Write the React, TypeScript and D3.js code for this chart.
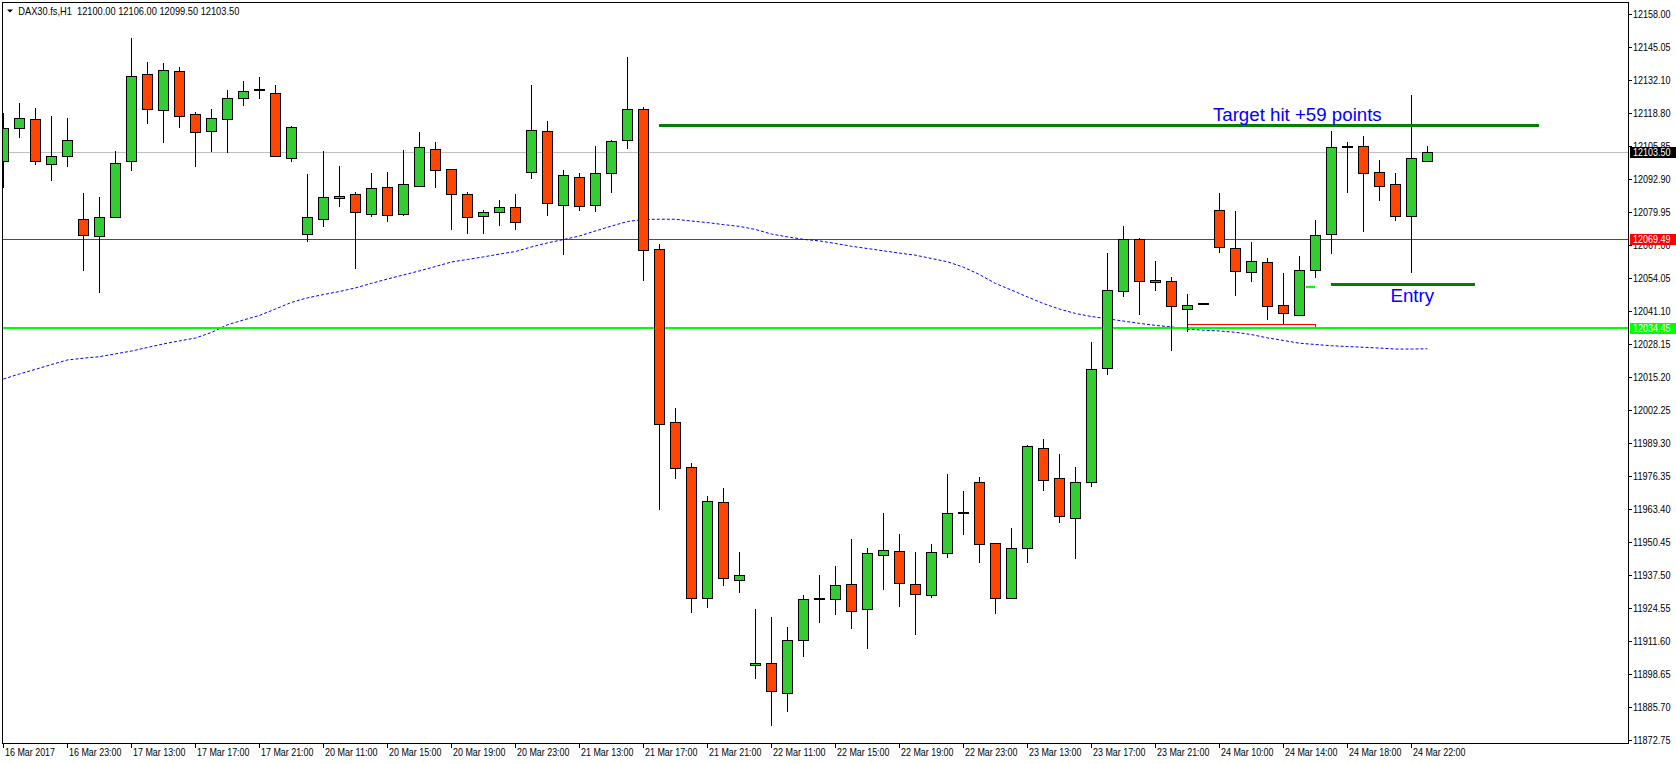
import { line, scaleLinear } from "d3";

// H1 candles, 16 Mar 2017 19:00 .. 24 Mar 2017 23:00
const opens = [
  12100.0, 12112.9, 12116.5, 12098.8, 12101.9, 12077.2, 12070.5, 12077.9, 12100.0, 12134.1,
  12120.0, 12135.3, 12118.4, 12111.7, 12116.5, 12124.7, 12127.8, 12126.7, 12101.1, 12071.3,
  12077.2, 12085.4, 12087.0, 12079.1, 12089.7, 12079.1, 12090.1, 12104.7, 12096.8, 12087.0,
  12078.3, 12079.9, 12081.9, 12095.6, 12111.7, 12082.7, 12093.7, 12082.7, 12095.2, 12108.2,
  12120.4, 12065.4, 11997.4, 11979.7, 11928.3, 11966.0, 11935.3, 11901.9, 11902.7, 11890.9,
  11911.7, 11928.0, 11927.9, 11933.8, 11923.9, 11945.1, 11946.7, 11933.8, 11929.4, 11945.9,
  11961.6, 11973.8, 11949.9, 11928.3, 11948.2, 11987.2, 11975.4, 11959.7, 11973.8, 12018.6,
  12048.9, 12069.3, 12053.2, 12052.8, 12041.8, 12043.8, 12080.7, 12065.8, 12056.3, 12060.3,
  12043.4, 12039.4, 12057.1, 12071.3, 12105.6, 12105.9, 12095.6, 12090.9, 12078.3, 12100.0,
];
const highs = [
  12119.1, 12122.7, 12120.8, 12117.8, 12117.0, 12087.5, 12085.9, 12103.9, 12148.3, 12139.0,
  12138.6, 12137.0, 12119.2, 12120.5, 12128.0, 12131.5, 12133.1, 12129.8, 12113.7, 12095.0,
  12103.9, 12098.1, 12087.8, 12095.4, 12095.8, 12104.4, 12111.5, 12107.5, 12097.0, 12087.8,
  12080.7, 12084.6, 12087.0, 12129.8, 12115.7, 12096.4, 12095.2, 12105.8, 12108.2, 12140.9,
  12121.2, 12067.5, 12003.0, 11981.3, 11968.3, 11971.5, 11946.5, 11924.1, 11920.9, 11917.0,
  11929.6, 11937.4, 11941.0, 11951.6, 11948.0, 11961.8, 11953.5, 11946.5, 11949.6, 11977.1,
  11970.4, 11975.9, 11949.9, 11955.9, 11988.5, 11990.9, 11985.0, 11979.9, 12029.0, 12063.9,
  12074.6, 12069.7, 12060.8, 12054.4, 12047.8, 12043.9, 12087.4, 12080.3, 12068.3, 12062.0,
  12056.1, 12062.8, 12076.9, 12111.9, 12107.6, 12109.9, 12100.5, 12095.2, 12126.0, 12106.0,
];
const lows = [
  12089.6, 12109.3, 12098.6, 12092.4, 12097.9, 12057.0, 12048.3, 12077.5, 12096.3, 12114.8,
  12107.2, 12113.2, 12097.9, 12103.6, 12103.4, 12121.8, 12124.3, 12101.6, 12099.8, 12068.1,
  12074.3, 12082.1, 12057.8, 12078.2, 12076.2, 12078.6, 12089.8, 12089.6, 12073.1, 12071.5,
  12071.5, 12074.7, 12073.1, 12093.1, 12078.6, 12063.3, 12080.6, 12080.2, 12087.6, 12104.7,
  12052.8, 11963.1, 11975.3, 11922.6, 11924.6, 11933.2, 11930.5, 11896.7, 11878.2, 11883.7,
  11905.3, 11918.7, 11921.8, 11916.3, 11908.5, 11931.7, 11925.0, 11914.0, 11928.5, 11944.2,
  11953.3, 11942.3, 11922.2, 11927.9, 11942.3, 11970.5, 11958.0, 11943.8, 11971.9, 12016.1,
  12046.8, 12039.7, 12049.1, 12025.6, 12033.0, 12043.7, 12064.1, 12047.2, 12052.7, 12037.7,
  12036.2, 12039.2, 12054.1, 12063.7, 12087.6, 12072.3, 12084.5, 12076.4, 12055.9, 12099.5,
];
const closes = [
  12112.9, 12116.8, 12100.0, 12101.9, 12108.2, 12070.9, 12077.9, 12099.2, 12133.6, 12120.4,
  12135.7, 12117.6, 12111.3, 12116.8, 12124.7, 12127.5, 12127.8, 12101.9, 12113.3, 12077.9,
  12085.8, 12086.3, 12079.9, 12089.3, 12078.7, 12090.9, 12105.5, 12096.4, 12087.0, 12077.9,
  12079.9, 12081.9, 12076.0, 12112.1, 12083.4, 12094.4, 12082.3, 12095.2, 12107.8, 12120.4,
  12065.0, 11996.6, 11979.3, 11928.3, 11966.4, 11936.1, 11937.3, 11903.0, 11891.7, 11911.7,
  11927.9, 11928.0, 11933.4, 11923.1, 11945.9, 11947.1, 11934.1, 11929.8, 11946.3, 11961.7,
  11961.6, 11949.5, 11928.3, 11947.9, 11988.0, 11974.6, 11960.5, 11973.8, 12018.2, 12049.3,
  12069.3, 12052.8, 12052.4, 12043.0, 12043.4, 12043.8, 12066.3, 12056.7, 12060.7, 12043.0,
  12040.2, 12057.1, 12070.9, 12105.5, 12105.6, 12095.2, 12090.1, 12078.3, 12101.1, 12103.5,
];
// moving average (blue dotted)
const maValues = [
  12014.4, 12016.4, 12018.2, 12020.1, 12021.9, 12022.6, 12023.2, 12024.3, 12025.4, 12026.8,
  12028.2, 12029.4, 12030.5, 12032.7, 12035.7, 12037.6, 12039.4, 12041.9, 12044.5, 12046.3,
  12047.6, 12048.8, 12050.2, 12052.0, 12053.7, 12055.3, 12056.9, 12058.6, 12060.4, 12061.4,
  12062.4, 12063.5, 12064.5, 12066.3, 12067.9, 12069.2, 12070.6, 12072.6, 12074.5, 12076.3,
  12077.1, 12077.2, 12077.2, 12076.5, 12075.9, 12075.1, 12074.4, 12073.2, 12071.4, 12070.3,
  12069.3, 12068.7, 12067.7, 12066.6, 12065.7, 12064.8, 12063.9, 12063.1, 12061.8, 12060.5,
  12058.4, 12055.5, 12052.0, 12049.4, 12046.7, 12044.1, 12041.9, 12040.2, 12039.0, 12038.1,
  12037.2, 12036.3, 12035.5, 12034.9, 12034.0, 12033.6, 12033.3, 12032.8, 12031.9, 12030.6,
  12029.6, 12028.5, 12028.0, 12027.5, 12027.2, 12026.9, 12026.6, 12026.2, 12026.2, 12026.3,
];

// one time label every 4 bars
const timeLabels = [
  "16 Mar 2017", "16 Mar 23:00", "17 Mar 13:00", "17 Mar 17:00", "17 Mar 21:00", "20 Mar 11:00",
  "20 Mar 15:00", "20 Mar 19:00", "20 Mar 23:00", "21 Mar 13:00", "21 Mar 17:00", "21 Mar 21:00",
  "22 Mar 11:00", "22 Mar 15:00", "22 Mar 19:00", "22 Mar 23:00", "23 Mar 13:00", "23 Mar 17:00",
  "23 Mar 21:00", "24 Mar 10:00", "24 Mar 14:00", "24 Mar 18:00", "24 Mar 22:00",
];
const priceTicks = [
  "12158.00", "12145.05", "12132.10", "12118.80", "12105.85", "12092.90", "12079.95", "12067.00",
  "12054.05", "12041.10", "12028.15", "12015.20", "12002.25", "11989.30", "11976.35", "11963.40",
  "11950.45", "11937.50", "11924.55", "11911.60", "11898.65", "11885.70", "11872.75",
];

const header = "DAX30.fs,H1  12100.00 12106.00 12099.50 12103.50";
const bidPrice = 12103.5;
const redLevel = 12069.49;
const limeLevel = 12034.45;
const targetLine = { from: 41, to: 96, price: 12114.2 };
const entryLine = { from: 83, to: 92, price: 12051.6 };
const entryTick = { from: 81.4, to: 82, price: 12050.7 };
const zoneBox = { from: 74, to: 82, top: 12035.9, bottom: 12034.7 };
const notes = [
  { text: "Target hit +59 points", bar: 75.6, price: 12115.9 },
  { text: "Entry", bar: 86.7, price: 12044.6 },
];

const W = 1676;
const H = 764;
const LEFT = 2.5;
const TOP = 2.5;
const RIGHT = 1628.5;
const BOTTOM = 743.5;
const FONT = "'Liberation Sans', Arial, sans-serif";
const FS = 10.5;

// squeeze text to the narrow terminal font widths
const Narrow = ({ x, y, w, fill = "#000", children }: { x: number; y: number; w: number; fill?: string; children: string }) => (
  <text
    x={x}
    y={y}
    fontSize={FS}
    fontFamily={FONT}
    fill={fill}
    textLength={w}
    lengthAdjust="spacingAndGlyphs"
    style={{ whiteSpace: "pre" }}
  >
    {children}
  </text>
);

export default function App() {
  const x = scaleLinear().domain([0, 89]).range([3.3, 1427.3]);
  const y = scaleLinear().domain([11872.75, 12158]).range([739.6, 13.6]);
  const px = (i: number) => Math.floor(x(i)) + 0.5;
  const py = (v: number) => Math.round(y(v)) + 0.5;

  const maLine = line<number>()
    .x((_, i) => x(i))
    .y((d) => y(d));

  const axisBox = (price: number, fill: string) => (
    <g>
      <rect x={1630} y={Math.round(y(price)) - 5} width={46} height={11} fill={fill} />
      <Narrow x={1633} y={Math.round(y(price)) + 4} w={37.5} fill="#fff">
        {price.toFixed(2)}
      </Narrow>
    </g>
  );

  return (
    <svg width={W} height={H} style={{ position: "absolute", left: 0, top: 0, background: "#fff" }}>
      <defs>
        <clipPath id="plot">
          <rect x={LEFT} y={TOP} width={RIGHT - LEFT} height={BOTTOM - TOP} />
        </clipPath>
      </defs>
      <rect width={W} height={H} fill="#fff" />

      <g clipPath="url(#plot)" shapeRendering="crispEdges">
        <line x1={LEFT} x2={RIGHT} y1={py(bidPrice)} y2={py(bidPrice)} stroke="#c0c0c0" />
        <line x1={LEFT} x2={RIGHT} y1={py(redLevel)} y2={py(redLevel)} stroke="#ff0000" />
        <path d={maLine(maValues) ?? ""} fill="none" stroke="#0000ff" strokeDasharray="3 2" shapeRendering="auto" />
        <rect
          x={px(zoneBox.from)}
          y={py(zoneBox.top)}
          width={px(zoneBox.to) - px(zoneBox.from)}
          height={py(zoneBox.bottom) - py(zoneBox.top)}
          fill="none"
          stroke="#ff0000"
        />
        <line x1={LEFT} x2={RIGHT} y1={Math.round(y(limeLevel))} y2={Math.round(y(limeLevel))} stroke="#00ff00" strokeWidth={2} />

        {opens.map((o, i) => {
          const c = closes[i];
          const cx = px(i);
          const top = Math.round(y(Math.max(o, c)));
          const bot = Math.round(y(Math.min(o, c)));
          return (
            <g key={i}>
              <line x1={cx} x2={cx} y1={Math.round(y(highs[i]))} y2={Math.round(y(lows[i]))} stroke="#000" />
              {bot - top < 2 ? (
                <rect x={cx - 5.5} y={top - 1} width={11} height={2} fill="#000" />
              ) : (
                <rect
                  x={cx - 5}
                  y={top + 0.5}
                  width={10}
                  height={bot - top}
                  fill={c >= o ? "#32cd32" : "#ff4500"}
                  stroke="#000"
                />
              )}
            </g>
          );
        })}

        <line x1={x(targetLine.from)} x2={x(targetLine.to)} y1={Math.round(y(targetLine.price))} y2={Math.round(y(targetLine.price))} stroke="#007f00" strokeWidth={3} />
        <line x1={x(entryLine.from)} x2={x(entryLine.to)} y1={Math.round(y(entryLine.price))} y2={Math.round(y(entryLine.price))} stroke="#007f00" strokeWidth={3} />
        <line x1={x(entryTick.from)} x2={x(entryTick.to)} y1={Math.round(y(entryTick.price))} y2={Math.round(y(entryTick.price))} stroke="#00ff00" strokeWidth={2} />
      </g>

      {notes.map((n) => (
        <text key={n.text} x={x(n.bar)} y={y(n.price)} fill="#0000ff" fontSize={18.7} fontFamily={FONT}>
          {n.text}
        </text>
      ))}

      {/* header */}
      <path d="M7 9.5 L13 9.5 L10 12.5 Z" fill="#000" />
      <Narrow x={18.3} y={14.5} w={221}>
        {header}
      </Narrow>

      {/* frame */}
      <rect x={LEFT} y={TOP} width={RIGHT - LEFT} height={BOTTOM - TOP} fill="none" stroke="#000" shapeRendering="crispEdges" />

      {/* price axis */}
      <g shapeRendering="crispEdges">
        {priceTicks.map((t) => (
          <line key={t} x1={RIGHT} x2={RIGHT + 3} y1={py(+t)} y2={py(+t)} stroke="#000" />
        ))}
      </g>
      {priceTicks.map((t) => (
        <Narrow key={t} x={1633} y={Math.round(y(+t)) + 4} w={37.5}>
          {t}
        </Narrow>
      ))}
      {axisBox(bidPrice, "#000")}
      {axisBox(redLevel, "#ff0000")}
      {axisBox(limeLevel, "#00ff00")}

      {/* time axis */}
      <g shapeRendering="crispEdges">
        {timeLabels.map((t, k) => (
          <line key={t} x1={px(k * 4)} x2={px(k * 4)} y1={BOTTOM} y2={BOTTOM + 4} stroke="#000" />
        ))}
      </g>
      {timeLabels.map((t, k) => (
        <Narrow key={t} x={px(k * 4) + 1.5} y={756} w={t.includes(":") ? 52.5 : 50}>
          {t}
        </Narrow>
      ))}
    </svg>
  );
}
